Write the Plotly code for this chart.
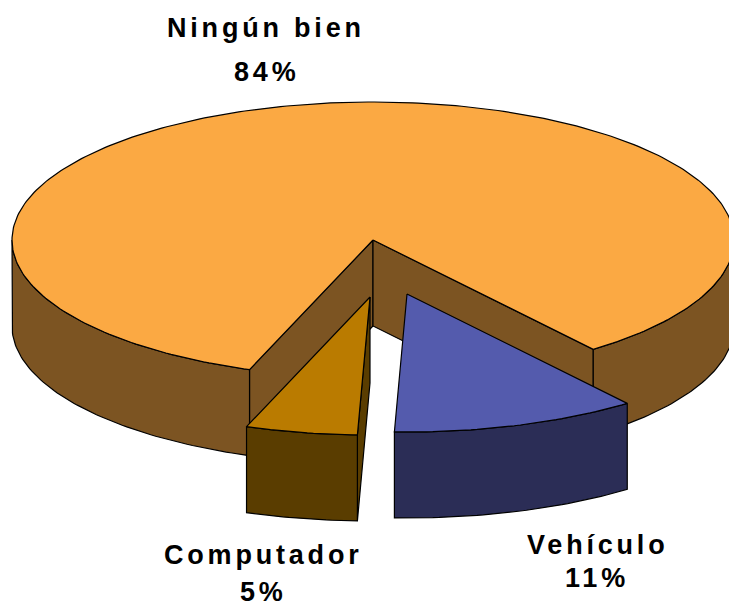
import numpy as np
import plotly.graph_objects as go

# ---- data ----
categories = ["Ningún bien", "Vehículo", "Computador"]
percentages = [84, 11, 5]

# ---- style / geometry ----
W, H = 729, 608
CX, CY, RX, RY, DEPTH = 373, 240, 361, 138, 86
START_ANGLE = 110  # degrees, screen coords (y down), slices go clockwise
explode = {"Ningún bien": (0, 0), "Vehículo": (34, 54), "Computador": (-3, 57)}
top_colors = {"Ningún bien": "#FBA943", "Vehículo": "#545BAD", "Computador": "#BA7B00"}
side_colors = {"Ningún bien": "#7C5422", "Vehículo": "#2B2D56", "Computador": "#5A3D00"}
label_pos = {"Ningún bien": (266, 28, 72), "Vehículo": (597, 545, 578), "Computador": (263, 555, 592)}

fig = go.Figure()


def P(th, off, dz=0.0):
    t = np.radians(th)
    return CX + RX * np.cos(t) + off[0], CY + RY * np.sin(t) + off[1] + dz


def poly(xs, ys, color):
    xs = list(xs) + [xs[0]]
    ys = list(ys) + [ys[0]]
    fig.add_trace(go.Scatter(x=xs, y=ys, mode="lines", fill="toself",
                             fillcolor=color, line=dict(color="black", width=1.2),
                             hoverinfo="skip", showlegend=False))


def arc(a, b, off, dz=0.0):
    n = max(2, int(abs(b - a)) + 1)
    th = np.linspace(a, b, n)
    xs, ys = P(th, off, dz)
    return list(xs), list(ys)


# compute slice angles
total = sum(percentages)
slices = []
a = START_ANGLE
for name, v in zip(categories, percentages):
    span = 360.0 * v / total
    slices.append((name, a, a + span))
    a += span

# draw order: big (back) slice first, then exploded front ones
order = sorted(slices, key=lambda s: explode[s[0]][1])

for name, a1, a2 in order:
    off = explode[name]
    side = side_colors[name]
    top = top_colors[name]
    ax, ay = CX + off[0], CY + off[1]
    # radial walls (only the ones facing the viewer)
    for ang, visible in ((a1, np.cos(np.radians(a1)) < 0), (a2, np.cos(np.radians(a2)) > 0)):
        if visible:
            ex, ey = P(ang, off)
            poly([ax, ex, ex, ax], [ay, ey, ey + DEPTH, ay + DEPTH], side)
    # outer front wall
    for k in range(-1, 3):
        lo, hi = max(a1, 360 * k), min(a2, 360 * k + 180)
        if hi - lo > 0.01:
            tx, ty = arc(lo, hi, off)
            bx, by = arc(hi, lo, off, DEPTH)
            poly(tx + bx, ty + by, side)
    # top face
    tx, ty = arc(a1, a2, off)
    poly([ax] + tx, [ay] + ty, top)

# labels
for name, v in zip(categories, percentages):
    x, y1, y2 = label_pos[name]
    for txt, y in ((name, y1), (f"{v}%", y2)):
        fig.add_annotation(x=x, y=y, xref="x", yref="y", showarrow=False,
                           xanchor="center", yanchor="middle",
                           text=f'<span style="letter-spacing:3.8px">{txt}</span>',
                           font=dict(family="Liberation Sans, Arial", size=27,
                                     color="black", weight="bold"))

fig.update_layout(
    width=W, height=H, margin=dict(l=0, r=0, t=0, b=0),
    paper_bgcolor="white", plot_bgcolor="white",
    xaxis=dict(range=[0, W], visible=False, fixedrange=True),
    yaxis=dict(range=[H, 0], visible=False, fixedrange=True),
)

fig.write_html("out.html", config={"displayModeBar": False},
               post_script="document.body.style.margin='0px';document.body.style.overflow='hidden';")
